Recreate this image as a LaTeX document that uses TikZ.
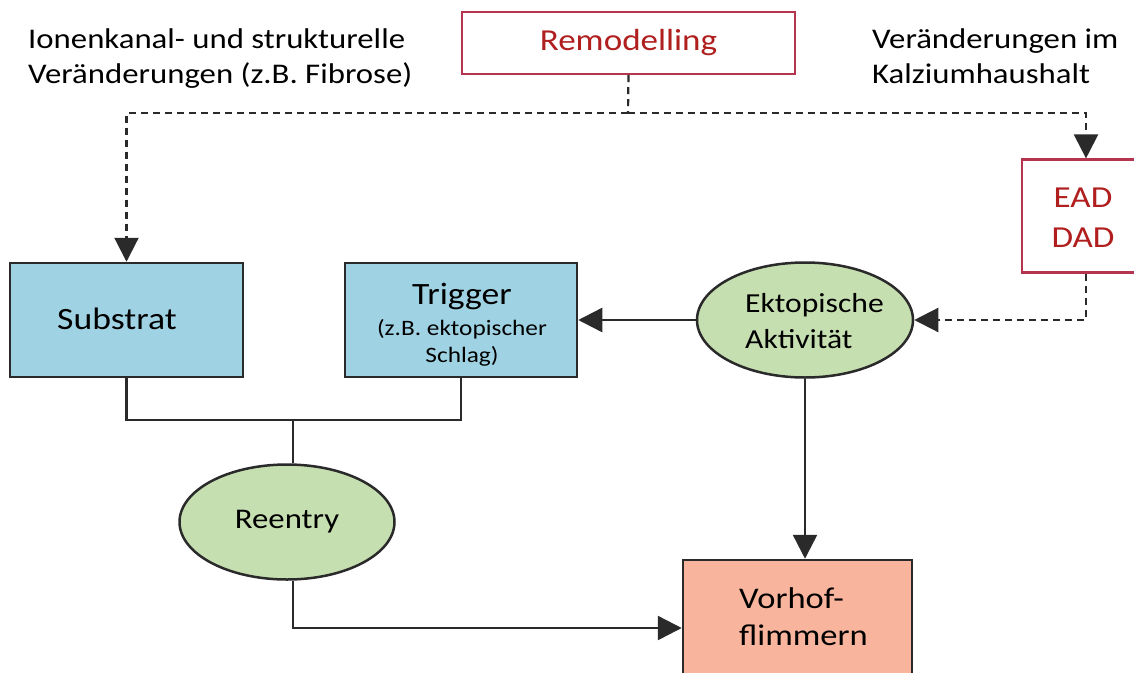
\documentclass[tikz,border=0pt]{standalone}
\usepackage{fontspec}
\setmainfont{Carlito}[FakeStretch=1.15]
\usetikzlibrary{shapes.geometric,arrows.meta}
\definecolor{boxblue}{HTML}{9FD3E4}
\definecolor{ovalgreen}{HTML}{C6DFB1}
\definecolor{salmon}{HTML}{F8B49C}
\definecolor{redframe}{HTML}{B5354F}
\definecolor{redtext}{HTML}{B01E1E}
\definecolor{linegray}{HTML}{2A2A2A}
\tikzset{
  bluebox/.style={draw=linegray,line width=2.5pt,fill=boxblue,minimum width=233pt,minimum height=114pt,inner sep=0pt},
  redbox/.style={draw=redframe,line width=2.2pt,fill=white,inner sep=0pt,text=redtext},
  oval/.style={ellipse,draw=linegray,line width=2.5pt,fill=ovalgreen,inner sep=0pt},
  conn/.style={draw=linegray,line width=2.5pt},
  dconn/.style={draw=linegray,line width=2.2pt,dash pattern=on 7pt off 5pt},
  tip/.style={-{Triangle[length=24pt,width=24pt]}},
  lab/.style={font=\fontsize{28.5}{35}\selectfont,align=left,inner sep=0pt},
}
\begin{document}
\begin{tikzpicture}[x=1pt,y=-1pt]
\useasboundingbox (0,0) rectangle (1134,672);
\clip (0,0) rectangle (1134,672);
% top texts
\node[lab,anchor=west] (lefttext) at (28,59) {Ionenkanal- und strukturelle\\Veränderungen (z.B. Fibrose)};
\node[lab,anchor=west] (righttext) at (872,56) {Veränderungen im\\Kalziumhaushalt};
\node[redbox,minimum width=333pt,minimum height=62pt,font=\fontsize{30.5}{34}\selectfont] (rem) at (628.5,43) {Remodelling};
% EAD DAD
\node[redbox,minimum width=128pt,minimum height=113pt] (ead) at (1086,216) {};
\node[font=\fontsize{30.5}{40}\selectfont,text=redtext,align=center,inner sep=0pt] (eadtext) at (1083,218) {EAD\\DAD};
% blue boxes
\node[bluebox] (sub) at (126.5,320) {};
\node[font=\fontsize{31}{34}\selectfont,inner sep=0pt] (subtext) at (117,319) {Substrat};
\node[bluebox,minimum width=232pt] (trig) at (461,320) {};
\node[font=\fontsize{31}{34}\selectfont,inner sep=0pt] (trigtitle) at (462,296) {Trigger};
\node[font=\fontsize{22}{27}\selectfont,align=center,inner sep=0pt] (trigtext) at (462,343) {(z.B. ektopischer\\Schlag)};
% ovals
\node[oval,minimum width=216pt,minimum height=115pt] (ekt) at (805,320) {};
\node[align=left,inner sep=0pt,font=\fontsize{27.5}{36}\selectfont,anchor=west] (ekttext) at (745,321) {Ektopische\\Aktivität};
\node[oval,minimum width=215pt,minimum height=115pt,font=\fontsize{28.5}{32}\selectfont] (reen) at (287,522) {Reentry};
% Vorhofflimmern
\node[draw=linegray,line width=2.5pt,fill=salmon,minimum width=229pt,minimum height=130pt,inner sep=0pt] (vor) at (797.5,625) {};
\node[align=left,inner sep=0pt,font=\fontsize{30}{37}\selectfont,anchor=west] (vortext) at (739,617) {Vorhof-\\flimmern};
% dashed connectors
\coordinate (dj) at (628,113);
\draw[dconn] (rem.south) -- (dj);
\draw[dconn,tip] (dj) -| (sub.north);
\draw[dconn,tip] (dj) -| (ead.north);
\draw[dconn,tip] (ead.south) |- (ekt.east);
% solid connectors
\draw[conn,tip] (ekt.west) -- (trig.east);
\coordinate (sj) at (293,420);
\draw[conn] (sub.south) |- (sj);
\draw[conn] (trig.south) |- (sj);
\draw[conn] (sj) -- (reen.north -| sj);
\draw[conn,tip] (reen.south -| sj) |- (vor.west |- 0,628);
\draw[conn,tip] (ekt.south) -- (vor.north -| ekt.south);
\end{tikzpicture}
\end{document}
